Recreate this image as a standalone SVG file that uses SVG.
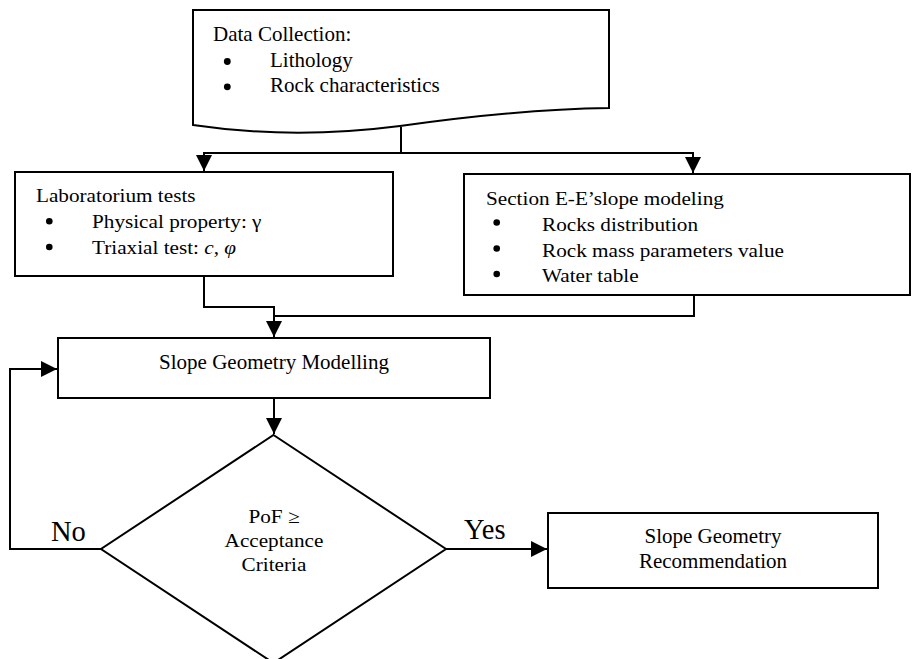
<svg xmlns="http://www.w3.org/2000/svg" width="912" height="659" viewBox="0 0 912 659">
<style>
  .shape { fill: #fff; stroke: #000; stroke-width: 2; }
  .conn { fill: none; stroke: #000; stroke-width: 2; }
  .bullet { fill: #000; }
  text { font-family: "Liberation Serif", "Times New Roman", serif; fill: #000; }
  .t21 { font-size: 21px; }
  .ts { font-size: 18.6px; }
  .mid { text-anchor: middle; }
  .lbl { font-size: 28.5px; }
</style>
<defs>
  <marker id="arr" markerUnits="userSpaceOnUse" markerWidth="16" markerHeight="16" refX="16" refY="8" orient="auto">
    <path d="M0,0 L16,8 L0,16 Z" fill="#000"/>
  </marker>
</defs>
<rect width="912" height="659" fill="#fff"/>

<g id="connectors">
  <path class="conn" d="M401,127 V153 H204 V171" marker-end="url(#arr)"/>
  <path class="conn" d="M401,153 H693 V173" marker-end="url(#arr)"/>
  <path class="conn" d="M204,276 V307 H274 V337" marker-end="url(#arr)"/>
  <path class="conn" d="M694,295 V316 H274"/>
  <path class="conn" d="M274,398 V434" marker-end="url(#arr)"/>
  <path class="conn" d="M101,549 H10 V369 H57" marker-end="url(#arr)"/>
  <path class="conn" d="M446,549 H547" marker-end="url(#arr)"/>
</g>

<g id="data-collection">
  <path class="shape" d="M193,10 H609 V108 C540,109 470,116 400,126 C330,135 260,135 193,125 Z"/>
  <text class="t21" x="213" y="41">Data Collection:</text>
  <circle class="bullet" cx="227.3" cy="61.5" r="3.4"/>
  <text class="t21" x="270" y="67">Lithology</text>
  <circle class="bullet" cx="227.3" cy="86.8" r="3.4"/>
  <text class="t21" x="270" y="92">Rock characteristics</text>
</g>

<g id="lab-tests">
  <rect class="shape" x="15" y="172" width="378" height="104"/>
  <text class="ts" transform="translate(36,202) scale(1.14,1)">Laboratorium tests</text>
  <circle class="bullet" cx="49.3" cy="221.3" r="3.3"/>
  <text class="ts" transform="translate(92,228) scale(1.14,1)">Physical property: γ</text>
  <circle class="bullet" cx="49.3" cy="247" r="3.3"/>
  <text class="ts" transform="translate(92,254) scale(1.14,1)">Triaxial test: <tspan font-style="italic">c</tspan>, <tspan font-style="italic">φ</tspan></text>
</g>

<g id="section-modeling">
  <rect class="shape" x="464" y="174" width="446" height="121"/>
  <text class="ts" transform="translate(486,205) scale(1.14,1)">Section E-E’slope modeling</text>
  <circle class="bullet" cx="496.7" cy="222.5" r="3.3"/>
  <text class="ts" transform="translate(542,231) scale(1.14,1)">Rocks distribution</text>
  <circle class="bullet" cx="496.7" cy="248.5" r="3.3"/>
  <text class="ts" transform="translate(542,257) scale(1.14,1)">Rock mass parameters value</text>
  <circle class="bullet" cx="496.7" cy="274" r="3.3"/>
  <text class="ts" transform="translate(542,282) scale(1.14,1)">Water table</text>
</g>

<g id="slope-modelling">
  <rect class="shape" x="58" y="338" width="432" height="60"/>
  <text class="t21 mid" x="274" y="369">Slope Geometry Modelling</text>
</g>

<g id="decision">
  <polygon class="shape" stroke-width="1.8" points="273.5,435 446,549 273.5,663 101,549"/>
  <text class="ts mid" transform="translate(274,523) scale(1.14,1)">PoF ≥</text>
  <text class="ts mid" transform="translate(274,547) scale(1.14,1)">Acceptance</text>
  <text class="ts mid" transform="translate(274,571) scale(1.14,1)">Criteria</text>
</g>

<g id="recommendation">
  <rect class="shape" x="548" y="513" width="330" height="75"/>
  <text class="t21 mid" x="713" y="543">Slope Geometry</text>
  <text class="t21 mid" x="713" y="568">Recommendation</text>
</g>

<g id="labels">
  <text class="lbl" x="51" y="541">No</text>
  <text class="lbl" x="464" y="539">Yes</text>
</g>
</svg>
